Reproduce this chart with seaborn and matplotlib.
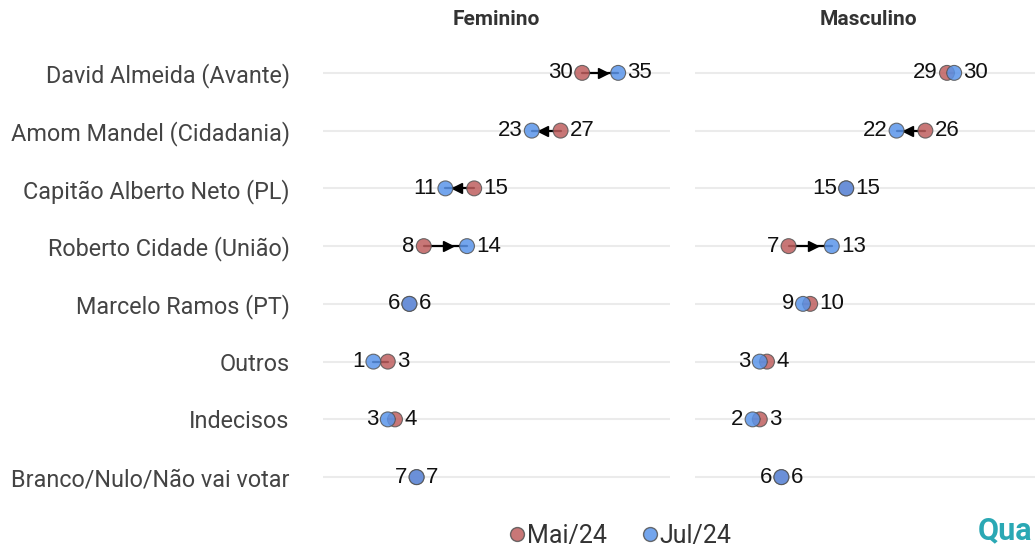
import pandas as pd
import numpy as np
import matplotlib.pyplot as plt
import seaborn as sns
from matplotlib.lines import Line2D

sns.set_style("white")
plt.rcParams['font.family'] = ['Roboto', 'DejaVu Sans']

candidatos = ["David Almeida (Avante)", "Amom Mandel (Cidadania)",
              "Capitão Alberto Neto (PL)", "Roberto Cidade (União)",
              "Marcelo Ramos (PT)", "Outros", "Indecisos",
              "Branco/Nulo/Não vai votar"]
fem_mai = [30, 27, 15, 8, 6, 3, 4, 7]
fem_jul = [35, 23, 11, 14, 6, 1, 3, 7]
masc_mai = [29, 26, 15, 7, 10, 4, 3, 6]
masc_jul = [30, 22, 15, 13, 9, 3, 2, 6]
paineis = ["Feminino", "Masculino"]
ondas = ["Mai/24", "Jul/24"]
cores = {"Mai/24": "#bf5f5f", "Jul/24": "#5b95ea"}

rows = []
for painel, mai, jul in [("Feminino", fem_mai, fem_jul), ("Masculino", masc_mai, masc_jul)]:
    for onda, vals in [("Mai/24", mai), ("Jul/24", jul)]:
        for i, c in enumerate(candidatos):
            rows.append({"painel": painel, "onda": onda, "candidato": c, "pos": i, "valor": vals[i]})
df = pd.DataFrame(rows)

fig = plt.figure(figsize=(10.35, 5.47), dpi=100)
W, H = 1035, 547
axes = [fig.add_axes([323 / W, 1 - 506 / H, 347 / W, 462 / H]),
        fig.add_axes([695 / W, 1 - 506 / H, 347 / W, 462 / H])]

num_font = ["Liberation Sans", "DejaVu Sans"]
for ax, painel in zip(axes, paineis):
    d = df[df.painel == painel]
    mai = d[d.onda == "Mai/24"].set_index("pos")["valor"]
    jul = d[d.onda == "Jul/24"].set_index("pos")["valor"]
    for i in range(len(candidatos)):
        a, b = mai[i], jul[i]
        ax.plot([a, b], [i, i], color="black", lw=1.6, zorder=2)
        if abs(b - a) >= 3:
            mid = (a + b) / 2 + (0.4 if b > a else -0.4)
            ax.plot(mid, i, marker=">" if b > a else "<", color="black",
                    markersize=7, zorder=2)
        lo, hi = min(a, b), max(a, b)
        ax.annotate(str(lo), (lo, i), xytext=(-6.5, 0), textcoords="offset points",
                    ha="right", va="center", fontsize=16, family=num_font, color="#111111")
        ax.annotate(str(hi), (hi, i), xytext=(6.5, 0), textcoords="offset points",
                    ha="left", va="center", fontsize=16, family=num_font, color="#111111")
    sns.scatterplot(data=d, x="valor", y="pos", hue="onda", hue_order=ondas,
                    palette=cores, s=115, alpha=0.85, edgecolor="#555555",
                    linewidth=0.8, legend=False, ax=ax, zorder=3)
    ax.set_xlim(-6, 42.2)
    ax.set_ylim(7.5, -0.5)
    ax.set_yticks(range(len(candidatos)))
    ax.set_xticks([])
    ax.set_xlabel("")
    ax.set_ylabel("")
    ax.grid(axis="y", color="#ebebeb", lw=1.5)
    ax.set_axisbelow(True)
    for s in ax.spines.values():
        s.set_visible(False)
    ax.set_title(painel, fontsize=15, fontweight="bold", color="#333333", pad=14)
    ax.tick_params(axis="y", length=0)

axes[0].set_yticklabels(candidatos, fontsize=16.8, color="#444444")
axes[0].tick_params(axis="y", pad=24)
axes[1].set_yticklabels([])

handles = [Line2D([], [], marker="o", ls="", markersize=10, markerfacecolor=cores[o],
                  markeredgecolor="#555555", alpha=0.85) for o in ondas]
fig.legend(handles, ondas, loc="center", bbox_to_anchor=(618 / W, 1 - 536 / H), ncol=2,
           frameon=False, fontsize=18, handletextpad=-0.1, columnspacing=1.2,
           handlelength=1.0, labelcolor="#333333")

fig.text(978 / W, 1 - 530 / H, "Qua", color="#2aa8b4", fontsize=22,
         fontweight="bold", va="center", ha="left")

fig.savefig("out.png", dpi=100)
